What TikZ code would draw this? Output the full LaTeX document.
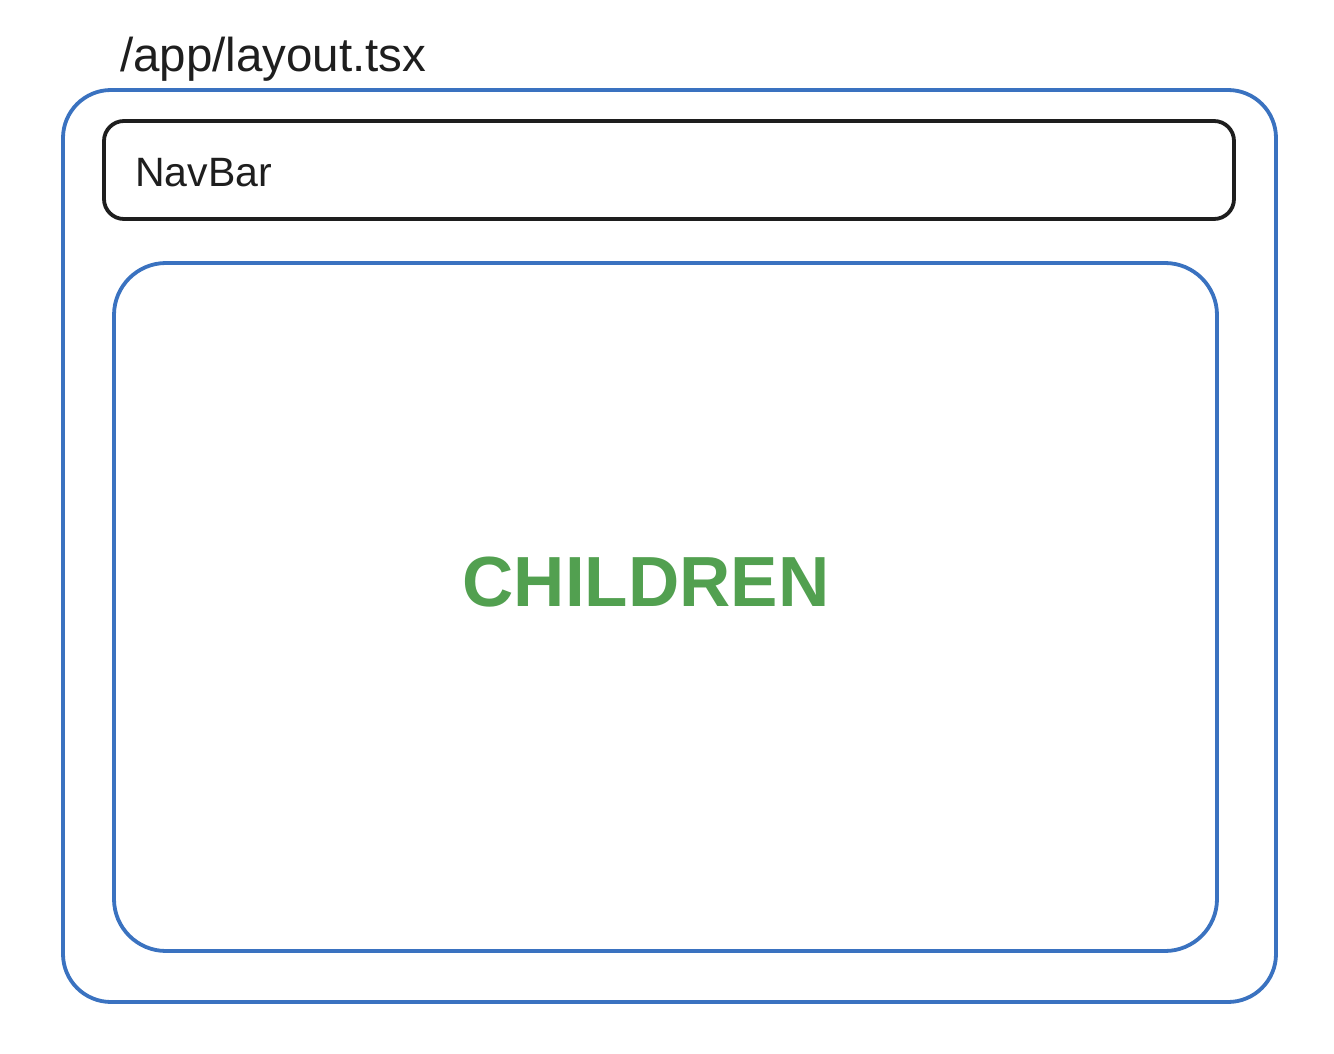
\documentclass[tikz,border=0pt]{standalone}
\usepackage{fontspec}
\setmainfont{Liberation Sans}
\definecolor{xblue}{HTML}{3A72C0}
\definecolor{xgreen}{HTML}{52A050}
\definecolor{xblack}{HTML}{1E1E1E}
\begin{document}
\begin{tikzpicture}[x=1pt,y=-1pt,
  frame/.style={draw=xblue,line width=3.8pt,inner sep=0pt},
  navbox/.style={draw=xblack,line width=3.8pt,inner sep=0pt,rounded corners=20pt},
  lbl/.style={text=xblack,inner sep=0pt}]
\useasboundingbox (0,0) rectangle (1334,1054);
\fill[white] (0,0) rectangle (1334,1054);
\node[frame,rounded corners=48pt,minimum width=1213pt,minimum height=912pt] (outer) at (669.5,546) {};
\node[navbox,minimum width=1130pt,minimum height=98pt] (nav) at (669,170) {};
\node[frame,rounded corners=52pt,minimum width=1103pt,minimum height=688pt] (inner) at (665.5,607) {};
\node[lbl,anchor=base west,font=\fontsize{47.5}{50}\selectfont] (title) at (120,72) {/app/layout.tsx};
\node[lbl,anchor=base west,font=\fontsize{41}{44}\selectfont] (navtext) at (135,186) {NavBar};
\node[inner sep=0pt,text=xgreen,anchor=base,font=\bfseries\fontsize{71}{76}\selectfont] (children) at (646,606) {CHILDREN};
\end{tikzpicture}
\end{document}
